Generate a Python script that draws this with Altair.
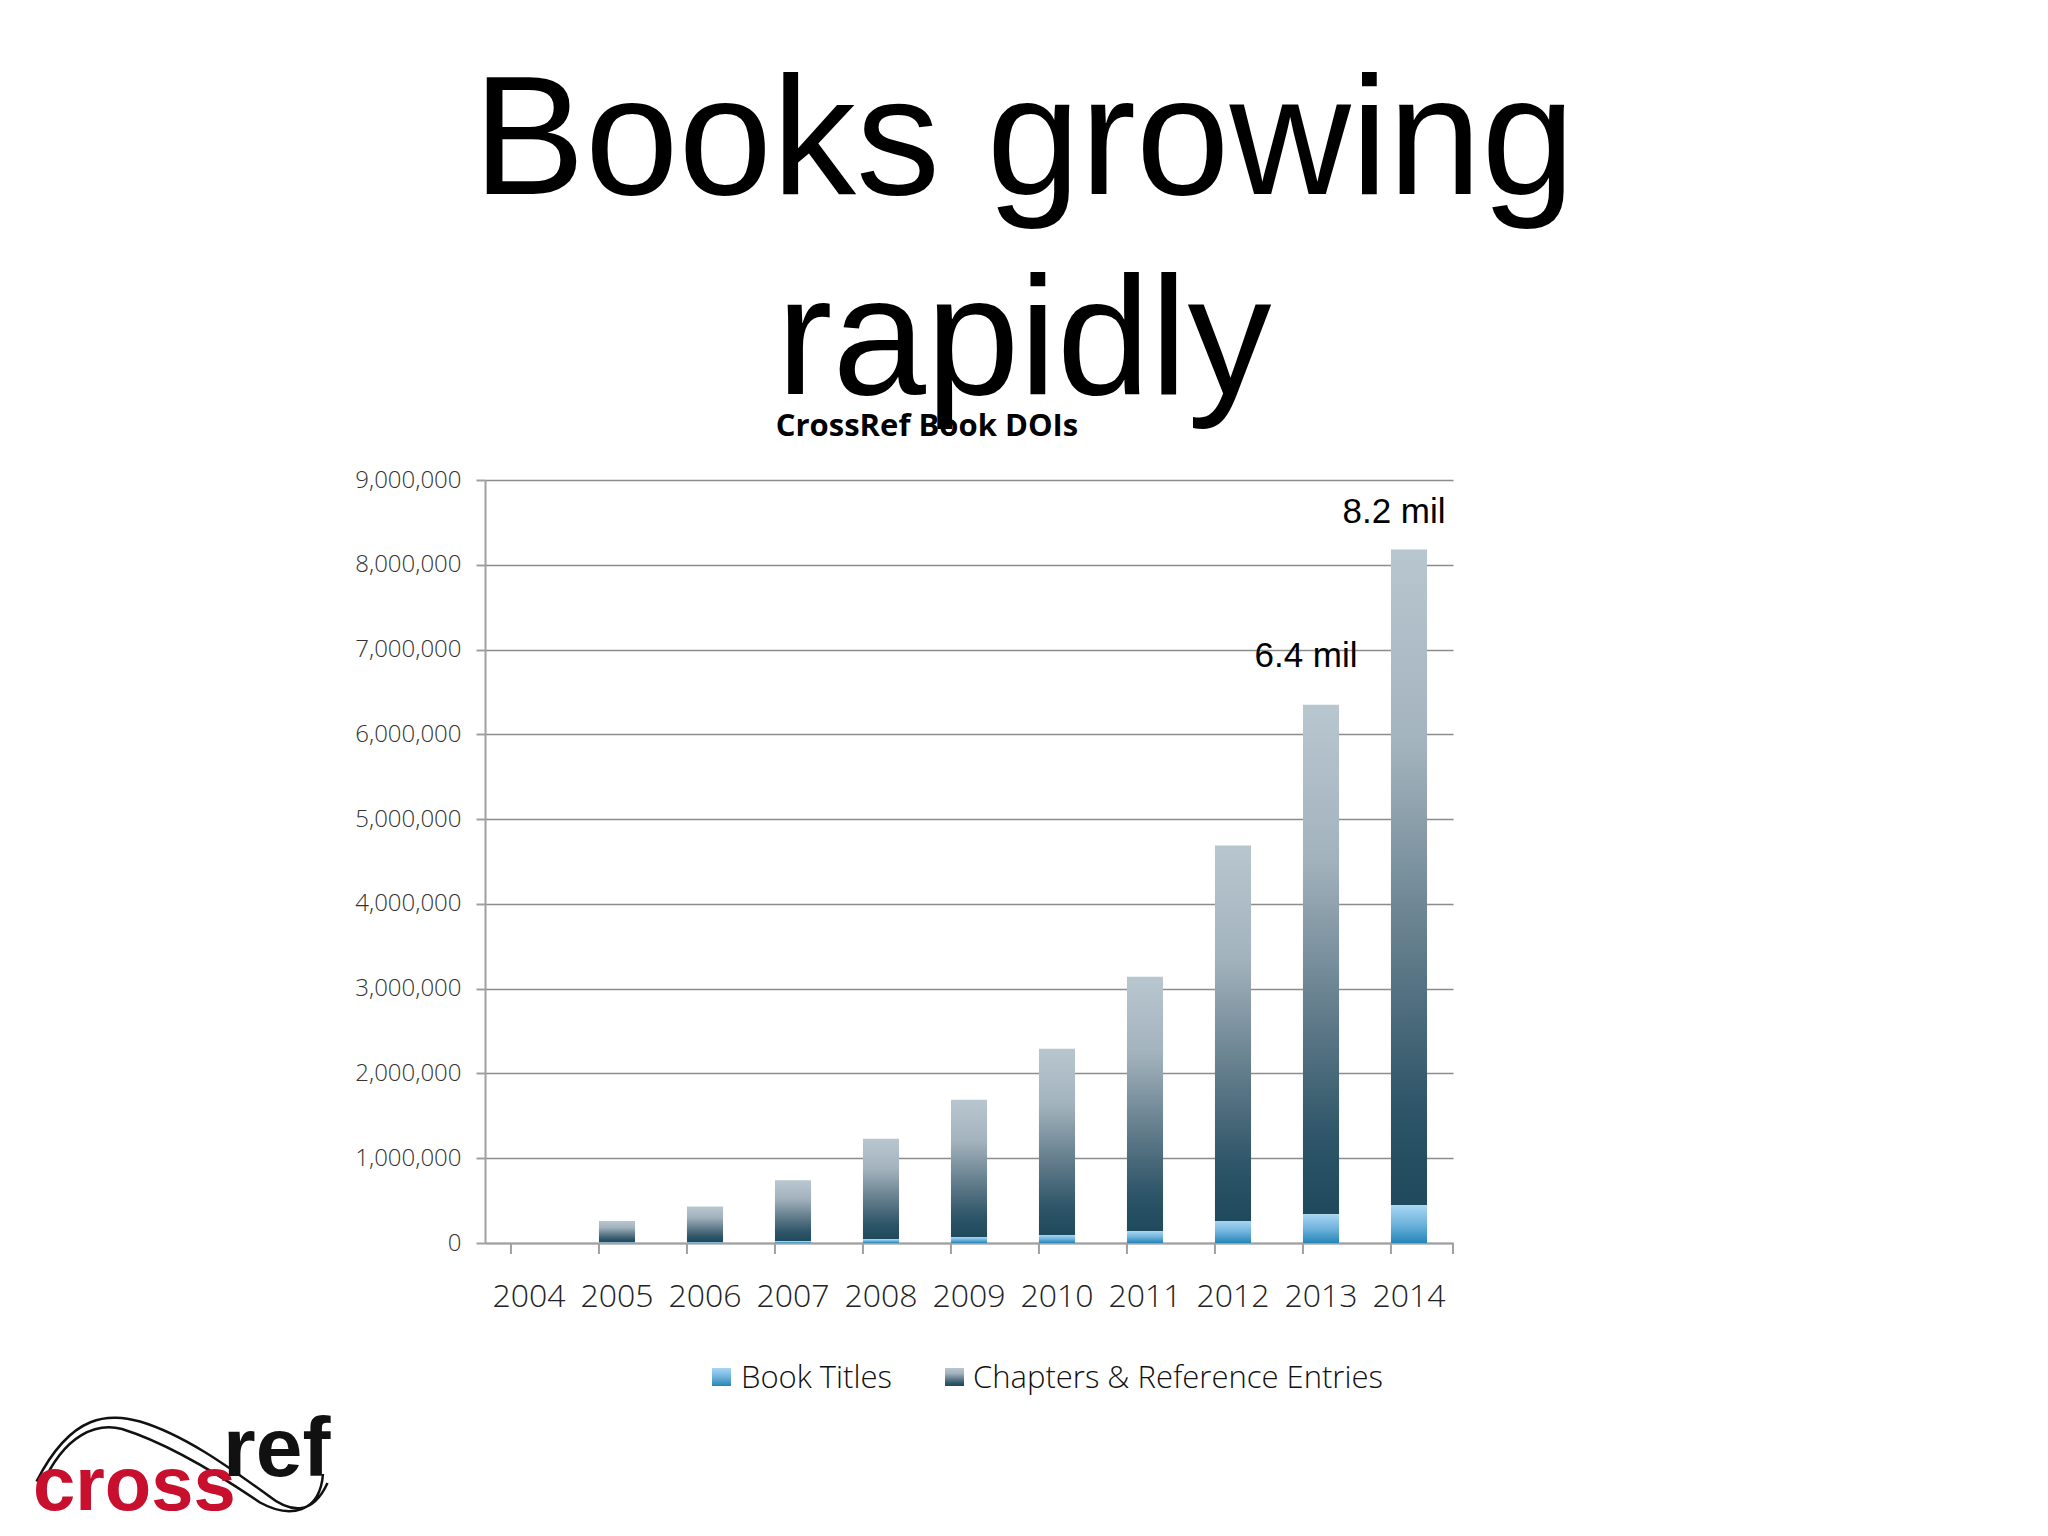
import altair as alt
import pandas as pd

# ---------------- data ----------------
years = ["2004", "2005", "2006", "2007", "2008", "2009", "2010", "2011", "2012", "2013", "2014"]
book_titles = [0, 5000, 10000, 20000, 45000, 70000, 95000, 140000, 260000, 340000, 445000]
chapters = [0, 255000, 420000, 720000, 1185000, 1620000, 2195000, 3000000, 4430000, 6010000, 7735000]
y_ticks = [0, 1000000, 2000000, 3000000, 4000000, 5000000, 6000000, 7000000, 8000000, 9000000]

annot_years = ["2013", "2014"]
annot_text = ["6.4 mil", "8.2 mil"]
annot_pos = [6790000, 8490000]

title_lines = ["Books growing", "rapidly"]
chart_title = "CrossRef Book DOIs"
legend_labels = ["Book Titles", "Chapters & Reference Entries"]
logo_words = ["cross", "ref"]

df = pd.DataFrame({"year": years, "titles": book_titles, "chapters": chapters})
ann_df = pd.DataFrame({"year": annot_years, "label": annot_text, "pos": annot_pos})
one = pd.DataFrame({"k": [0]})

W, H = 968, 763

LIGHT = "Open Sans"

grad_gray = alt.LinearGradient(
    gradient="linear", x1=0, x2=0, y1=0, y2=1,
    stops=[
        alt.GradientStop(color="#b8c6cf", offset=0),
        alt.GradientStop(color="#a3b3bd", offset=0.3),
        alt.GradientStop(color="#5f7a89", offset=0.62),
        alt.GradientStop(color="#2e5568", offset=0.85),
        alt.GradientStop(color="#1f495c", offset=1),
    ],
)
grad_blue = alt.LinearGradient(
    gradient="linear", x1=0, x2=0, y1=0, y2=1,
    stops=[
        alt.GradientStop(color="#a8d6f4", offset=0),
        alt.GradientStop(color="#6fb3dc", offset=0.5),
        alt.GradientStop(color="#2486b7", offset=1),
    ],
)

x_scale = alt.Scale(domain=years, paddingInner=0.59, paddingOuter=0.295)
y_scale = alt.Scale(domain=[0, 9000000], nice=False, zero=True)

x_axis = alt.Axis(
    title=None, ticks=False, grid=False, labelAngle=0,
    domainColor="#a0a0a0", domainWidth=2,
    labelFont=LIGHT, labelFontWeight=300, labelFontSize=32, labelColor="#222222",
    labelPadding=38,
)
y_axis = alt.Axis(
    title=None, values=y_ticks, format=",d", grid=True,
    gridColor="#8c8c8c", gridWidth=1.5,
    domainColor="#a0a0a0", domainWidth=2,
    tickColor="#a0a0a0", tickWidth=2, tickSize=9,
    labelFont=LIGHT, labelFontWeight=300, labelFontSize=24, labelColor="#333333",
    labelPadding=15,
)


def xenc(**kw):
    return alt.X("year:O", scale=x_scale, axis=x_axis, sort=None, **kw)


titles_layer = alt.Chart(df).mark_bar(fill=grad_blue).encode(
    x=xenc(),
    y=alt.Y("titles:Q", scale=y_scale, axis=y_axis),
)

chap_layer = alt.Chart(df).transform_calculate(
    top="datum.titles + datum.chapters"
).mark_bar(fill=grad_gray).encode(
    x=xenc(),
    y=alt.Y("top:Q", scale=y_scale, axis=y_axis),
    y2="titles:Q",
)

ticks_layer = alt.Chart(df).mark_rule(color="#a0a0a0", strokeWidth=2).encode(
    x=xenc(bandPosition=0),
    y=alt.value(H),
    y2=alt.value(H + 11),
)
end_tick = alt.Chart(one).mark_rule(color="#a0a0a0", strokeWidth=2).encode(
    x=alt.value(W), y=alt.value(H), y2=alt.value(H + 11)
)

annot_layer = alt.Chart(ann_df).mark_text(
    font="Liberation Sans", fontSize=35, dx=-15, baseline="alphabetic",
    align="center", color="#000000",
).encode(
    x=xenc(),
    y=alt.Y("pos:Q", scale=y_scale, axis=y_axis),
    text="label:N",
)


def text_at(txt, x, y, size, font, weight="normal", align="left", color="#000000"):
    return alt.Chart(pd.DataFrame({"t": [txt]})).mark_text(
        font=font, fontSize=size, fontWeight=weight, align=align,
        baseline="alphabetic", color=color,
    ).encode(x=alt.value(x), y=alt.value(y), text="t:N")


title1 = text_at(title_lines[0], 539, -286, 168, "Liberation Sans", align="center")
title2 = text_at(title_lines[1], 539, -86, 168, "Liberation Sans", align="center")
subtitle = text_at(chart_title, 442, -44, 31, "Open Sans", weight="bold", align="center")

leg_sq1 = alt.Chart(one).mark_rect(fill=grad_blue).encode(
    x=alt.value(227), x2=alt.value(246), y=alt.value(888), y2=alt.value(906)
)
leg_sq2 = alt.Chart(one).mark_rect(fill=grad_gray).encode(
    x=alt.value(460), x2=alt.value(479), y=alt.value(888), y2=alt.value(906)
)
leg_t1 = text_at(legend_labels[0], 256, 908, 31, LIGHT, weight=300, color="#111111")
leg_t2 = text_at(legend_labels[1], 488, 908, 31, LIGHT, weight=300, color="#111111")

# crossref logo
logo_cross = text_at(logo_words[0], -452, 1030, 76, "Liberation Sans", weight="bold", color="#c8102e")
logo_ref = text_at(logo_words[1], -262, 996, 84, "Liberation Sans", weight="bold", color="#111111")
swoosh_path = (
    "M -0.99 0.09 C -0.75 -0.38 -0.5 -0.36 -0.3 -0.31 C 0 -0.22 0.3 0 0.55 0.18 "
    "C 0.7 0.3 0.85 0.32 0.95 0.1 "
    "M -0.96 0.13 C -0.8 -0.24 -0.58 -0.3 -0.42 -0.26 C -0.1 -0.16 0.25 0.06 0.5 0.23 "
    "C 0.7 0.34 0.9 0.3 0.92 0.04"
)
logo_swoosh = alt.Chart(one).mark_point(
    shape=swoosh_path, size=90000, filled=False, stroke="#111111", strokeWidth=2.5, opacity=1
).encode(x=alt.value(-300), y=alt.value(988))

chart = alt.layer(
    chap_layer, titles_layer, ticks_layer, end_tick, annot_layer,
    title1, title2, subtitle,
    leg_sq1, leg_sq2, leg_t1, leg_t2,
    logo_swoosh, logo_cross, logo_ref,
).properties(
    width=W, height=H,
    padding={"left": 477, "top": 472, "right": 587, "bottom": 290},
    autosize=alt.AutoSizeParams(type="none"),
    background="#ffffff",
).configure_view(stroke=None)

chart.save("out.html", embed_options={"renderer": "svg", "actions": False})
